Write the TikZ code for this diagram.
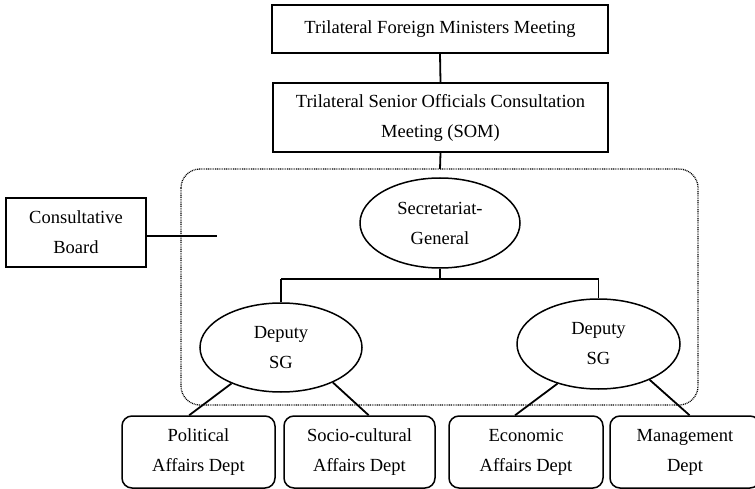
\documentclass[tikz,border=0pt]{standalone}
\usepackage{fontspec}
\setmainfont{Liberation Serif}
\usetikzlibrary{shapes.geometric,calc}
\begin{document}
\begin{tikzpicture}[x=1pt,y=-1pt,
  every node/.style={font=\fontsize{18.5}{30}\selectfont, align=center, inner sep=0pt},
  sqbox/.style={draw, line width=1.8pt, rectangle, minimum width=#1},
  rbox/.style={draw, line width=1.5pt, rectangle, rounded corners=10pt, minimum width=#1, minimum height=72pt},
  oval/.style={draw, line width=1.5pt, ellipse, minimum width=#1, minimum height=90pt},
  conn/.style={line width=1.8pt},
  frame/.style={line width=1.3pt, dash pattern=on 0.9pt off 0.9pt, rounded corners=19pt}]
\useasboundingbox (0,0) rectangle (755,489);
% top boxes
\node[sqbox=336pt, minimum height=48pt] (fmm) at (440,29) {Trilateral Foreign Ministers Meeting};
\node[sqbox=335pt, minimum height=69pt] (som) at (440.5,117.5) {Trilateral Senior Officials Consultation\\Meeting (SOM)};
% dotted frame
\draw[frame] (181,169) rectangle (698,405);
\coordinate (frametop) at (440,169);
% consultative board
\node[sqbox=140pt, minimum height=69pt] (cb) at (76,232.5) {Consultative\\Board};
\coordinate (cbend) at (217,236);
% ellipses
\node[oval=160pt] (sg) at (440,223) {Secretariat-\\General};
\node[oval=162pt, minimum height=89pt] (dl) at (281,347.5) {Deputy\\SG};
\node[oval=163pt] (dr) at (598.5,344) {Deputy\\SG};
% bottom boxes
\node[rbox=153pt] (pol) at (198.5,452) {Political\\Affairs Dept};
\node[rbox=151pt] (soc) at (359.5,452) {Socio-cultural\\Affairs Dept};
\node[rbox=154pt] (eco) at (526,452) {Economic\\Affairs Dept};
\node[rbox=150pt] (man) at (685,452) {Management\\Dept};
% connectors
\draw[conn] (fmm.south) -- (som.north);
\draw[conn] (som.south) -- (frametop);
\draw[conn] (cb.east |- cbend) -- (cbend);
\coordinate (bar) at (440,279);
\draw[conn] (sg.south) -- (bar);
\draw[conn] (bar -| dl.north) -- (bar -| dr.north);
\draw[conn] (bar -| dl.north) -- (dl.north);
\draw[conn] (bar -| dr.north) -- (dr.north);
\draw[conn] (dl.216) -- ($(pol.north west)!0.44!(pol.north east)$);
\draw[conn] (dl.-34) -- ($(soc.north west)!0.56!(soc.north east)$);
\draw[conn] (dr.-136) -- ($(eco.north west)!0.43!(eco.north east)$);
\draw[conn] (dr.-35) -- ($(man.north west)!0.53!(man.north east)$);
\end{tikzpicture}
\end{document}
